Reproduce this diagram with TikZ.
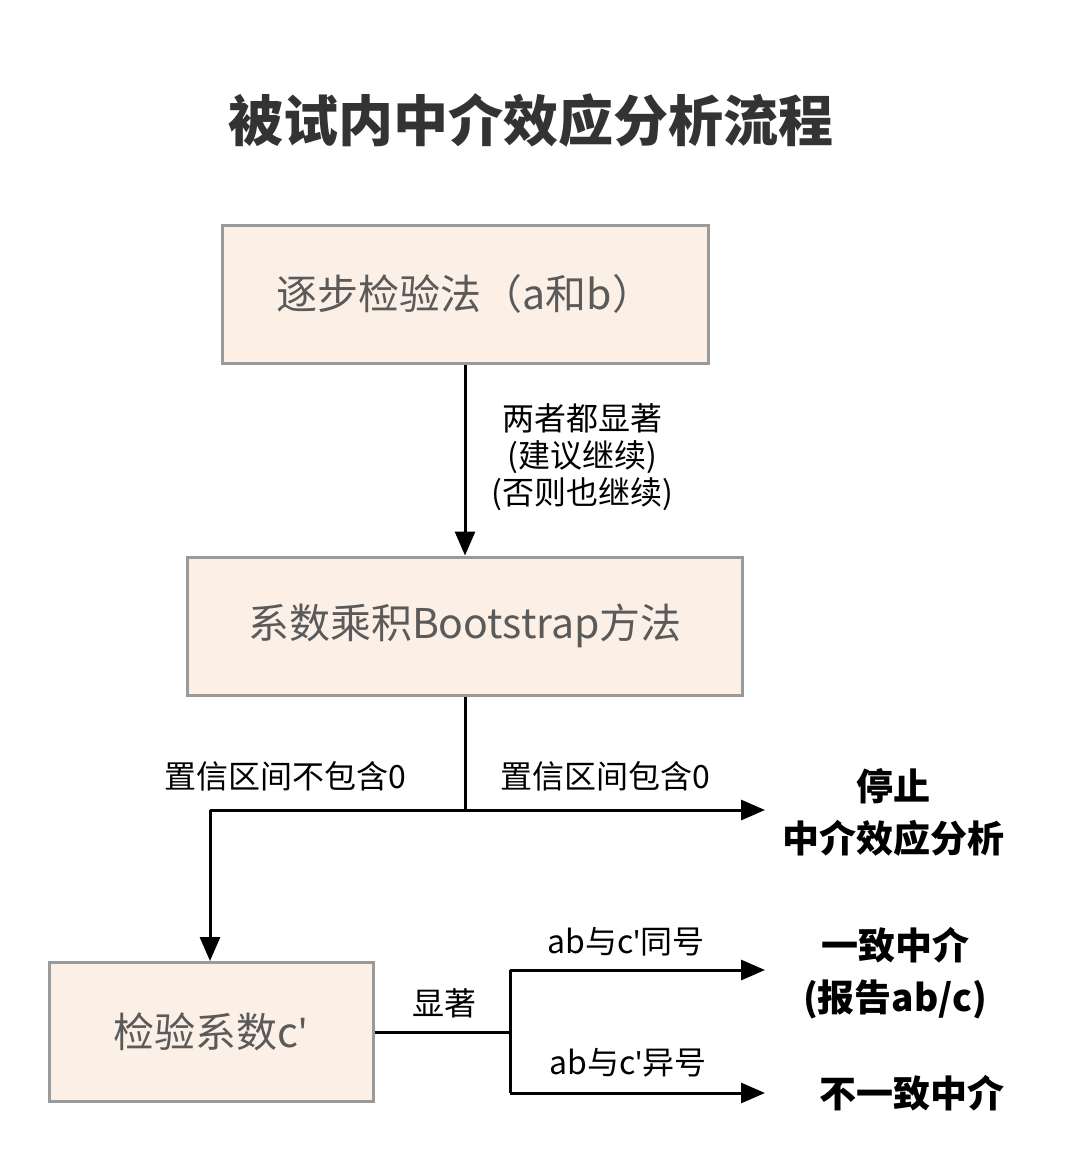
\documentclass[tikz,border=0pt]{standalone}
\usepackage{fontspec}
\setmainfont{Noto Sans CJK SC}
\newfontfamily\latinfont{Noto Sans}
\usetikzlibrary{arrows.meta}
\definecolor{boxfill}{HTML}{FCF0E6}
\definecolor{boxline}{HTML}{9A9A9A}
\definecolor{boxtext}{HTML}{5A5A5A}
\newcommand{\sq}{{\latinfont\symbol{39}}}
\tikzset{
 stepbox/.style={draw=boxline,line width=3pt,fill=boxfill,text=boxtext,font=\fontsize{41}{48}\selectfont,inner sep=0pt},
 conn/.style={line width=3pt,-{Triangle[length=24pt,width=20pt]}},
 lbl/.style={font=\fontsize{32}{37}\selectfont,align=center},
 res/.style={font=\fontsize{37}{52}\selectfont\bfseries,align=center}
}
\begin{document}
\begin{tikzpicture}[x=1pt,y=-1pt]
\useasboundingbox (0,0) rectangle (1080,1160);
\node[font=\fontsize{55}{60}\selectfont\bfseries,text=black!80] (t) at (531,120) {被试内中介效应分析流程};
\node[stepbox,minimum width=486pt,minimum height=138pt] (b1) at (465,294) {逐步检验法（a和b）};
\node[stepbox,minimum width=555pt,minimum height=138pt] (b2) at (465,626) {系数乘积Bootstrap方法};
\node[stepbox,minimum width=324pt,minimum height=139pt] (b3) at (211,1032) {检验系数c\sq{}};
\draw[conn] (b1.south) -- (b2.north);
\node[lbl] (l1) at (582,457) {两者都显著\\(建议继续)\\(否则也继续)};
\coordinate (j1) at (465,810);
\coordinate (jl) at (210,810);
\coordinate (jr) at (765,810);
\draw[line width=3pt] (b2.south) -- (j1);
\draw[conn] (jl) -- (jr);
\draw[conn] (jl) -- (b3.north -| jl);
\node[lbl] (l2) at (285,776) {置信区间不包含0};
\node[lbl] (l3) at (605,776) {置信区间包含0};
\node[res] (r1) at (893,812) {停止\\中介效应分析};
\coordinate (k) at (510,1032);
\coordinate (ku) at (510,970);
\coordinate (kd) at (510,1093);
\draw[line width=3pt] (b3.east) -- (k);
\draw[line width=3pt] (ku) -- (kd);
\draw[conn] (ku) -- (765,970);
\draw[conn] (kd) -- (765,1093);
\node[lbl] (l4) at (444,1003) {显著};
\node[lbl] (l5) at (626,942) {ab与c\sq{}同号};
\node[lbl] (l6) at (628,1063) {ab与c\sq{}异号};
\node[res] (r2) at (895,973) {一致中介\\(报告ab/c)};
\node[res] (r3) at (912,1093) {不一致中介};
\end{tikzpicture}
\end{document}
